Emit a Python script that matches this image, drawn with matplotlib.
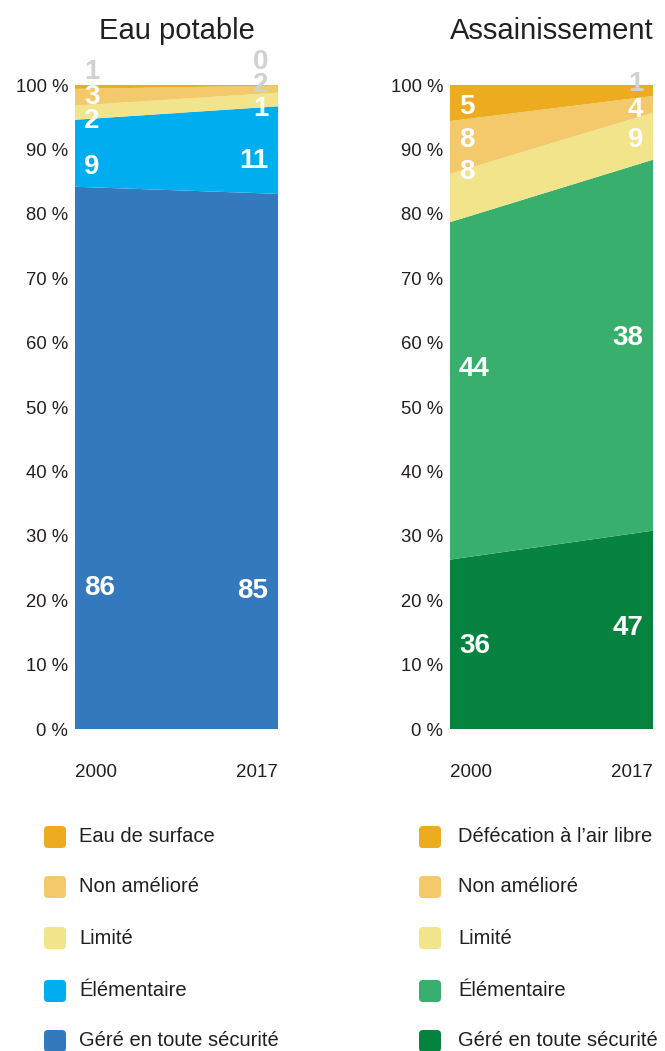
import matplotlib
matplotlib.use("Agg")
import matplotlib.pyplot as plt
from matplotlib.patches import FancyBboxPatch

plt.rcParams["font.family"] = ["Liberation Sans", "DejaVu Sans"]

years = [2000, 2017]

# Eau potable: area shares (bottom -> top)
water_names = ["Géré en toute sécurité", "Élémentaire", "Limité", "Non amélioré", "Eau de surface"]
water_gere = [84.2, 83.1]
water_elem = [10.4, 13.6]
water_lim = [2.2, 2.1]
water_nonam = [2.6, 1.1]
water_surf = [0.6, 0.1]
# printed labels (2000, 2017)
water_lbl = [("86", "85"), ("9", "11"), ("2", "1"), ("3", "2"), ("1", "0")]

# Assainissement
san_names = ["Géré en toute sécurité", "Élémentaire", "Limité", "Non amélioré", "Défécation à l\u2019air libre"]
san_gere = [26.3, 30.8]
san_elem = [52.4, 57.6]
san_lim = [7.5, 7.3]
san_nonam = [8.2, 2.6]
san_def = [5.6, 1.7]
san_lbl = [("36", "47"), ("44", "38"), ("8", "9"), ("8", "4"), ("5", "1")]

water_cols = ["#3479be", "#00aeef", "#f1e48b", "#f3c96b", "#edac1f"]
san_cols = ["#06843f", "#38af6c", "#f1e48b", "#f3c96b", "#edac1f"]

# label layout: vertical position (%) and whether the label sits outside (grey)
water_lbl_y = [(21.9, 21.4), (87.3, 88.2), (94.4, 96.3), (98.1, 100.0), (102.0, 103.6)]
water_grey = [(False, False), (False, False), (False, False), (False, True), (True, True)]
san_lbl_y = [(12.9, 15.7), (55.9, 60.7), (86.5, 91.5), (91.5, 96.1), (96.6, 100.2)]
san_grey = [(False, False), (False, False), (False, False), (False, False), (False, True)]

TXT = "#231f20"
GREY = "#d1d1d1"

fig = plt.figure(figsize=(6.65, 10.51), dpi=100)


def panel(rect, title, series, cols, lbls, lbl_y, grey):
    ax = fig.add_axes(rect)
    ax.stackplot(years, *series, colors=cols, linewidth=0)
    ax.set_xlim(years[0], years[-1])
    ax.set_ylim(0, 100)
    for s in ax.spines.values():
        s.set_visible(False)
    ax.set_yticks(range(0, 101, 10))
    ax.set_yticklabels([f"{v} %" for v in range(0, 101, 10)])
    ax.tick_params(axis="y", length=0, pad=5, labelsize=13.3, labelcolor=TXT)
    ax.set_xticks(years)
    ax.set_xticklabels([str(y) for y in years])
    ax.tick_params(axis="x", length=0, pad=25, labelsize=13.5, labelcolor=TXT)
    tl = ax.get_xticklabels()
    tl[0].set_ha("left")
    tl[-1].set_ha("right")
    ax.set_title(title, fontsize=21, color=TXT, pad=33)
    for (l0, l1), (y0, y1), (g0, g1) in zip(lbls, lbl_y, grey):
        ax.annotate(l0, xy=(years[0], y0), xytext=(6.5, 0), textcoords="offset points",
                    ha="left", va="center", fontsize=20, fontweight="bold",
                    color=GREY if g0 else "white", annotation_clip=False)
        ax.annotate(l1, xy=(years[-1], y1), xytext=(-7, 0), textcoords="offset points",
                    ha="right", va="center", fontsize=20, fontweight="bold",
                    color=GREY if g1 else "white", annotation_clip=False)
    return ax


panel([75 / 665, 322 / 1051, 203 / 665, 644 / 1051], "Eau potable",
      [water_gere, water_elem, water_lim, water_nonam, water_surf],
      water_cols, water_lbl, water_lbl_y, water_grey)
panel([450 / 665, 322 / 1051, 203 / 665, 644 / 1051], "Assainissement",
      [san_gere, san_elem, san_lim, san_nonam, san_def],
      san_cols, san_lbl, san_lbl_y, san_grey)

# legends drawn in a pixel-unit overlay
lg = fig.add_axes([0, 0, 1, 1])
lg.set_xlim(0, 665)
lg.set_ylim(1051, 0)
lg.axis("off")
rows_y = [837, 887, 938, 991, 1041]
for x_sq, x_tx, names, cols in [(44, 79, water_names, water_cols), (419, 458, san_names, san_cols)]:
    for y, name, c in zip(rows_y, names[::-1], cols[::-1]):
        lg.add_patch(FancyBboxPatch((x_sq + 3, y - 8), 16, 16,
                                    boxstyle="round,pad=3,rounding_size=4",
                                    fc=c, ec="none"))
        lg.text(x_tx, y, name, fontsize=14.5, color=TXT, va="center", ha="left")

fig.savefig("out.png", dpi=100)
